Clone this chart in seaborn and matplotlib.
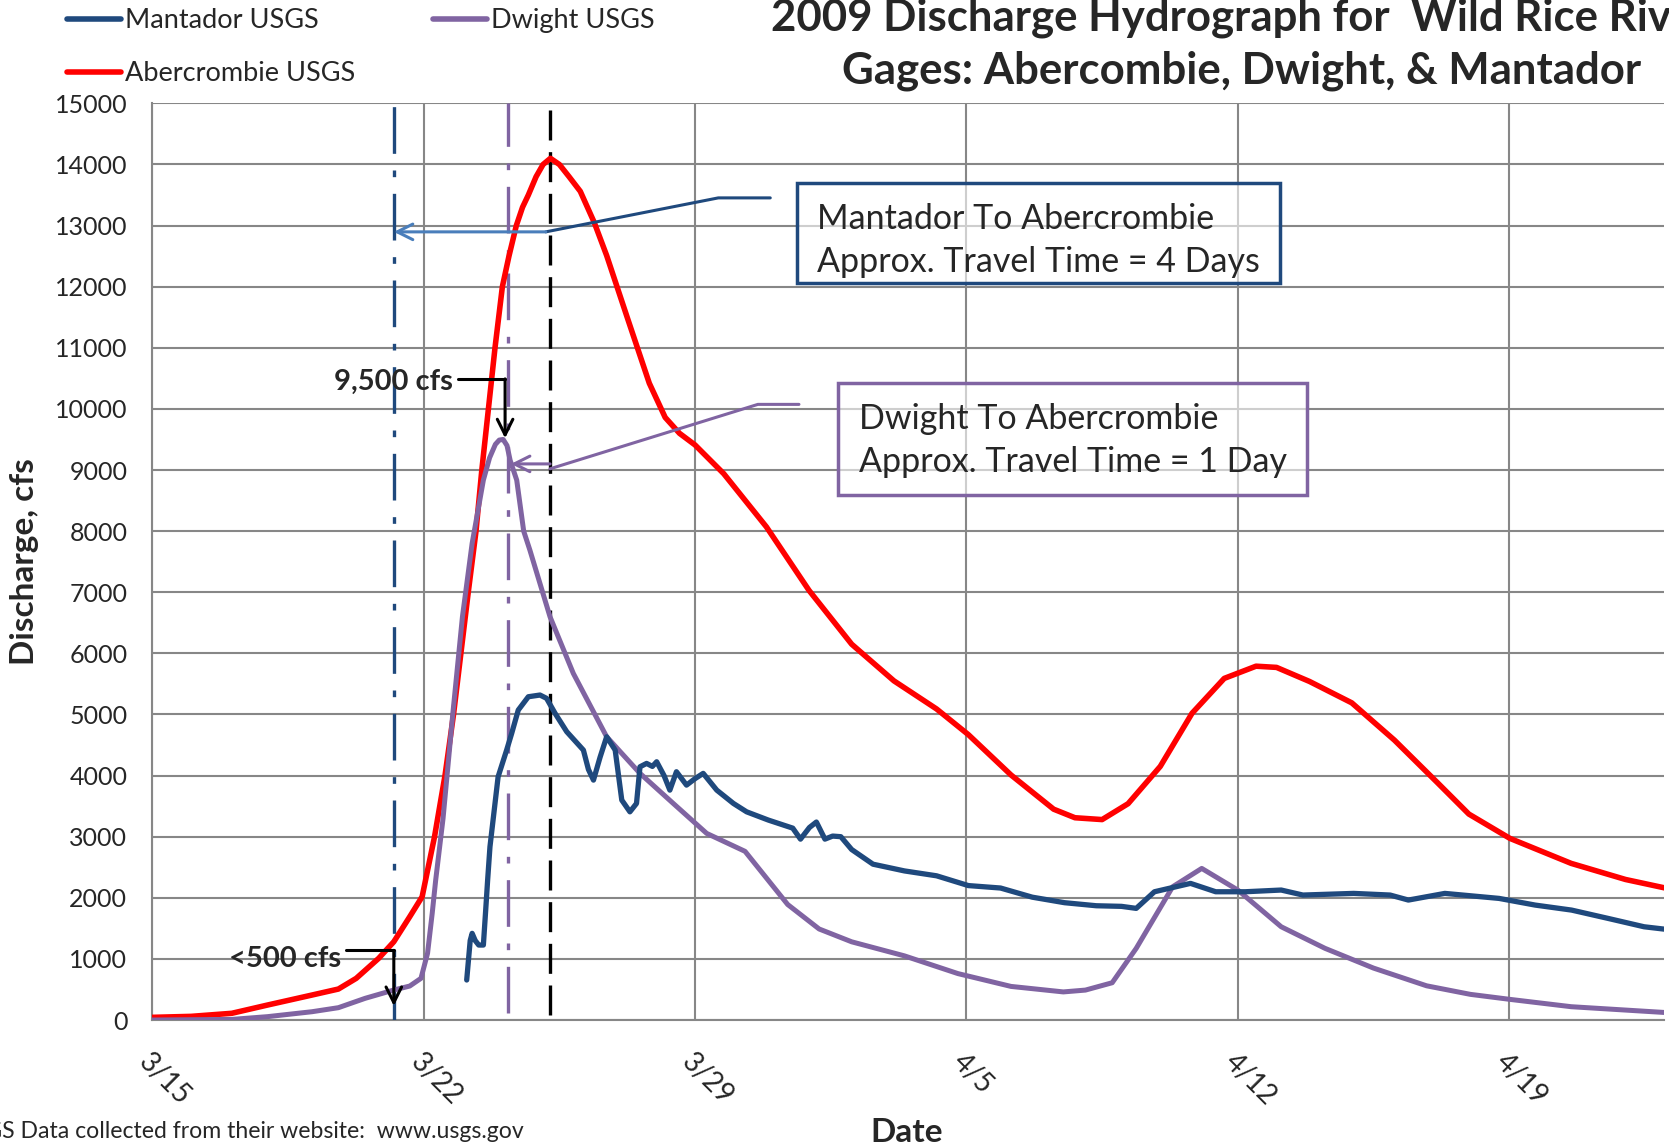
import numpy as np
import matplotlib
matplotlib.use("Agg")
import matplotlib.pyplot as plt
import seaborn as sns
from matplotlib.lines import Line2D
from matplotlib.patches import Rectangle

abercrombie_days = [0, 1, 2.05, 2.97, 4.12, 4.8, 5.26, 5.84, 6.23, 6.64, 6.96, 7.28, 7.55,
                    7.77, 7.96, 8.15, 8.35, 8.5, 8.67, 8.84, 9.03, 9.2, 9.39, 9.55, 9.7,
                    9.9, 10.08, 10.27, 10.5, 10.75, 11.04, 11.4, 11.72, 12.27, 12.82, 13.23,
                    13.6, 14.0, 14.74, 15.84, 16.94, 18.04, 19.13, 20.23, 21.05, 22.15,
                    23.25, 23.8, 24.5, 25.17, 26.0, 26.82, 27.65, 28.47, 29.0, 29.85, 30.94,
                    32.04, 33.14, 33.96, 35.02, 36.6, 38.0, 39.1]
abercrombie_cfs = [44, 60, 110, 245, 409, 507, 682, 1010, 1281, 1690, 2017, 3000, 4000,
                   5000, 6000, 7000, 8000, 9000, 10000, 11000, 12000, 12500, 13000, 13300,
                   13500, 13800, 14000, 14100, 14000, 13800, 13560, 13050, 12510, 11460,
                   10420, 9860, 9600, 9410, 8940, 8070, 7030, 6150, 5550, 5090, 4670, 4010,
                   3450, 3310, 3280, 3540, 4150, 5020, 5590, 5790, 5770, 5540, 5190, 4580,
                   3890, 3370, 2972, 2563, 2300, 2150]

dwight_days = [0, 2.05, 2.97, 4.12, 4.8, 5.49, 6.23, 6.64, 6.93, 7.1, 7.22, 7.31, 7.5,
               7.75, 8.0, 8.25, 8.54, 8.7, 8.85, 8.95, 9.05, 9.15, 9.23, 9.4, 9.58, 9.74,
               10.26, 10.86, 11.72, 12.58, 13.44, 14.3, 15.29, 16.39, 17.2, 18.04, 19.4,
               20.78, 22.15, 23.5, 24.07, 24.76, 25.38, 26.32, 27.07, 28.0, 29.12, 30.25,
               31.5, 32.87, 34.0, 35.02, 36.6, 39.1]
dwight_cfs = [0, 10, 55, 136, 202, 355, 491, 556, 682, 1091, 1745, 2290, 3300, 5000, 6600,
              7800, 8835, 9200, 9420, 9490, 9500, 9400, 9160, 8835, 8000, 7689, 6597, 5672,
              4635, 4036, 3543, 3054, 2760, 1890, 1490, 1280, 1050, 760, 550, 460, 490, 610,
              1173, 2181, 2481, 2127, 1526, 1173, 850, 560, 420, 338, 218, 120]

mantador_days = [8.11, 8.2, 8.25, 8.33, 8.42, 8.54, 8.6, 8.65, 8.71, 8.92, 9.14, 9.27, 9.44,
                 9.7, 10.0, 10.17, 10.39, 10.69, 11.12, 11.25, 11.38, 11.55, 11.72, 11.94,
                 12.11, 12.32, 12.49, 12.58, 12.75, 12.9, 13.01, 13.2, 13.35, 13.52, 13.78,
                 14.0, 14.21, 14.56, 14.99, 15.33, 15.89, 16.52, 16.72, 16.95, 17.13, 17.35,
                 17.55, 17.76, 18.04, 18.59, 19.4, 20.23, 21.05, 21.88, 22.7, 23.53, 24.35,
                 25.0, 25.38, 25.85, 26.78, 27.43, 28.19, 29.12, 29.68, 30.99, 31.93, 32.4,
                 33.34, 34.74, 35.67, 36.61, 37.55, 38.48, 39.1]
mantador_cfs = [655, 1300, 1418, 1300, 1227, 1227, 1800, 2290, 2835, 3980, 4417, 4690, 5072,
                5290, 5318, 5264, 5018, 4718, 4417, 4100, 3926, 4300, 4635, 4417, 3599, 3407,
                3544, 4144, 4199, 4150, 4226, 4000, 3762, 4063, 3844, 3950, 4036, 3762, 3544,
                3407, 3272, 3140, 2960, 3150, 3240, 2960, 3010, 3000, 2790, 2550, 2440, 2360,
                2200, 2160, 2010, 1920, 1870, 1860, 1827, 2099, 2236, 2099, 2099, 2127, 2045,
                2072, 2045, 1963, 2072, 1990, 1881, 1799, 1663, 1526, 1480]

tick_days = [0, 7, 14, 21, 28, 35]
tick_labels = ["3/15", "3/22", "3/29", "4/5", "4/12", "4/19"]

# peak timing markers (days after 3/15)
mantador_peak_day = 6.23
dwight_peak_day = 9.17
abercrombie_peak_day = 10.26

RED = "#FF0000"
PURPLE = "#8064A2"
NAVY = "#1F497D"
LIGHT_BLUE = "#4A7EBB"
GRID = "#878787"

sns.set_style("white")
plt.rcParams["font.family"] = ["Lato", "DejaVu Sans"]

fig = plt.figure(figsize=(16.69, 11.47), dpi=100)
ax = fig.add_axes([0.09125, 0.1107, 0.9059, 0.7992])

sns.lineplot(x=abercrombie_days, y=abercrombie_cfs, ax=ax, color=RED, lw=4, zorder=4)
sns.lineplot(x=dwight_days, y=dwight_cfs, ax=ax, color=PURPLE, lw=3.6, zorder=5)
sns.lineplot(x=mantador_days, y=mantador_cfs, ax=ax, color=NAVY, lw=3.8, zorder=6)

# peak time lines
ax.plot([mantador_peak_day] * 2, [0, 15000], color=NAVY, lw=2.4,
        dashes=(14, 5, 2, 5), zorder=3)
ax.plot([dwight_peak_day] * 2, [120, 15000], color=PURPLE, lw=2.4,
        dashes=(14, 5, 2, 5), zorder=3)
ax.plot([abercrombie_peak_day] * 2, [80, 15000], color="black", lw=2.4,
        dashes=(9, 3.5), zorder=3)

ax.set_xlim(0, 39)
ax.set_ylim(0, 15000)
ax.set_yticks(np.arange(0, 15001, 1000))
ax.set_yticklabels([str(v) for v in range(0, 15001, 1000)])
ax.set_xticks(tick_days)
ax.set_xticklabels(tick_labels, rotation=-45, ha="left", rotation_mode="anchor")

ax.grid(True, color=GRID, lw=1.5)
ax.set_axisbelow(True)
for side in ["top", "right"]:
    ax.spines[side].set_visible(False)
for side in ["left", "bottom"]:
    ax.spines[side].set_color(GRID)
    ax.spines[side].set_linewidth(1.5)
ax.tick_params(axis="y", direction="out", length=6, width=1.5, color=GRID,
               labelsize=18, pad=12)
ax.tick_params(axis="x", direction="out", length=7, width=1.5, color=GRID,
               labelsize=20, pad=14)

ax.set_xlabel("Date", fontsize=24, fontweight="bold")
ax.set_ylabel("Discharge, cfs", fontsize=24, fontweight="bold")
ax.xaxis.set_label_coords(0.499, -0.107)
ax.yaxis.set_label_coords(-0.075, 0.5)

# callouts for the 9,500 and <500 cfs readings
ax.plot([7.89, 9.1], [10491, 10491], color="black", lw=2.2, zorder=7)
ax.annotate("", xy=(9.1, 9520), xytext=(9.1, 10491),
            arrowprops=dict(arrowstyle="->", color="black", lw=2.2,
                            mutation_scale=28, shrinkA=0, shrinkB=0), zorder=7)
ax.text(7.75, 10450, "9,500 cfs", ha="right", va="center", fontsize=21,
        fontweight="bold", zorder=8)

ax.plot([5.0, mantador_peak_day], [1140, 1140], color="black", lw=2.2, zorder=7)
ax.annotate("", xy=(mantador_peak_day, 230), xytext=(mantador_peak_day, 1140),
            arrowprops=dict(arrowstyle="->", color="black", lw=2.2,
                            mutation_scale=28, shrinkA=0, shrinkB=0), zorder=7)
ax.text(4.87, 1000, "<500 cfs", ha="right", va="center", fontsize=21,
        fontweight="bold", zorder=8)

# travel time boxes
ax.plot([15.94, 14.6, 10.15], [13453, 13453, 12897], color=NAVY, lw=2.2, zorder=7)
ax.annotate("", xy=(mantador_peak_day, 12897), xytext=(10.15, 12897),
            arrowprops=dict(arrowstyle="->", color=LIGHT_BLUE, lw=2.2,
                            mutation_scale=28, shrinkA=0, shrinkB=0), zorder=7)
ax.add_patch(Rectangle((16.63, 12056), 29.09 - 16.63, 13692 - 12056,
                       fc=(1, 1, 1, 0.6), ec=NAVY, lw=2.5, zorder=7))
ax.text(17.14, 12760, "Mantador To Abercrombie\nApprox. Travel Time = 4 Days",
        ha="left", va="center", fontsize=24.5, linespacing=1.42, zorder=8)

ax.plot([16.68, 15.62, 10.26], [10074, 10074, 9020], color=PURPLE, lw=2.2, zorder=7)
ax.annotate("", xy=(9.25, 9100), xytext=(10.26, 9100),
            arrowprops=dict(arrowstyle="->", color=PURPLE, lw=2.2,
                            mutation_scale=28, shrinkA=0, shrinkB=0), zorder=7)
ax.add_patch(Rectangle((17.69, 8588), 29.79 - 17.69, 10416 - 8588,
                       fc=(1, 1, 1, 0.6), ec=PURPLE, lw=2.5, zorder=7))
ax.text(18.24, 9480, "Dwight To Abercrombie\nApprox. Travel Time = 1 Day",
        ha="left", va="center", fontsize=24.5, linespacing=1.42, zorder=8)

handles = [Line2D([], [], color=NAVY, lw=4),
           Line2D([], [], color=RED, lw=4),
           Line2D([], [], color=PURPLE, lw=4)]
fig.legend(handles, ["Mantador USGS", "Abercrombie USGS", "Dwight USGS"],
           loc="upper left", bbox_to_anchor=(67 / 1669, 1 - 8 / 1147), ncol=2,
           frameon=False, fontsize=19.5, handlelength=2.0, handletextpad=0.15,
           columnspacing=2.85, labelspacing=1.05, borderpad=0, borderaxespad=0)

fig.text(0.7436, 1 - 44 / 1147,
         "2009 Discharge Hydrograph for  Wild Rice River\nGages: Abercombie, Dwight, & Mantador",
         ha="center", va="center", fontsize=31.5, fontweight="bold", linespacing=1.38)

fig.text(524 / 1669, 16 / 1147, "USGS Data collected from their website:  www.usgs.gov",
         ha="right", va="center", fontsize=16.6)

fig.savefig("out.png", dpi=100)
